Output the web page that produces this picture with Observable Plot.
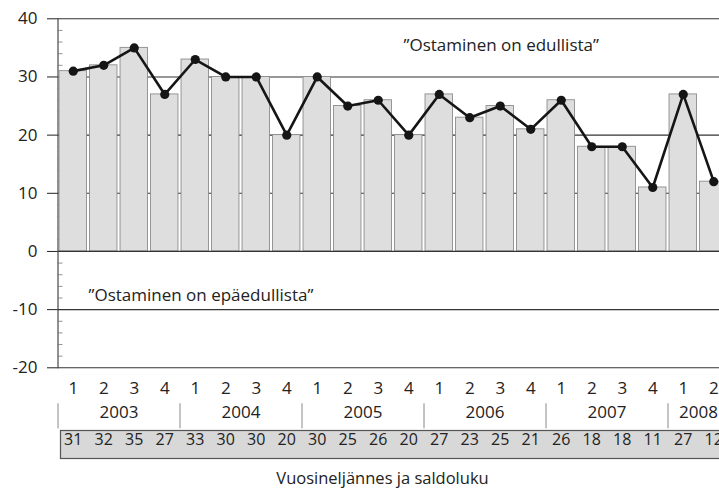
<!DOCTYPE html>
<html><head><meta charset="utf-8">
<script src="https://cdn.jsdelivr.net/npm/d3@7"></script>
<script src="https://cdn.jsdelivr.net/npm/@observablehq/plot@0.6"></script>
<style>html,body{margin:0;padding:0;overflow:hidden;background:#fff}</style>
</head><body><div id="chart"></div>
<script>
// ---- data ----
const years = ["2003", "2004", "2005", "2006", "2007", "2008"];
const quartersPerYear = [4, 4, 4, 4, 4, 2];
const quarterLabels = ["1", "2", "3", "4"];
const values = [31, 32, 35, 27, 33, 30, 30, 20, 30, 25, 26, 20, 27, 23, 25, 21, 26, 18, 18, 11, 27, 12];
const yTicks = [-20, -10, 0, 10, 20, 30, 40];
const gridLines = [-20, -10, 10, 20, 30, 40];
const minorTicks = [-18, -16, -14, -12, -8, -6, -4, -2, 2, 4, 6, 8, 12, 14, 16, 18, 22, 24, 26, 28, 32, 34, 36, 38];
const annotationTop = ["”Ostaminen on edullista”"];
const annotationTopY = [35.4];
const annotationBottom = ["”Ostaminen on epäedullista”"];
const annotationBottomY = [-7.6];
const xTitle = "Vuosineljännes ja saldoluku";

// ---- table ----
const rows = [];
years.forEach((yr, yi) => {
  quarterLabels.slice(0, quartersPerYear[yi]).forEach(q => {
    rows.push({key: yr + "-" + q, year: yr, q, v: values[rows.length]});
  });
});
const keys = rows.map(d => d.key);
const yearRows = years.map((yr, yi) => ({
  year: yr,
  first: yr + "-1",
  mid: yr + "-" + (quartersPerYear[yi] / 2 + 1)
}));

// ---- layout ----
const W = 730, H = 493, ML = 57.5, MR = 1.5, MT = 18.3, MB = 125.7;
const frameH = H - MT - MB;
const step = (W - ML - MR) / keys.length;
const ink = "#222";
const font = "'Open Sans', sans-serif";

const chart = Plot.plot({
  width: W, height: H,
  marginLeft: ML, marginRight: MR, marginTop: MT, marginBottom: MB,
  style: {fontFamily: font, fontSize: "17px", color: ink, background: "#fff", overflow: "visible", maxWidth: "none"},
  x: {domain: keys, paddingInner: 0.1, paddingOuter: 0.05, round: false, axis: null},
  y: {domain: [-20, 40], ticks: yTicks, tickSize: 10.5, tickPadding: 10, tickFormat: d => String(d), label: null, line: true},
  marks: [
    Plot.ruleY(gridLines, {stroke: "#333", strokeWidth: 1.1}),
    Plot.tickY(minorTicks, {stroke: "#777", strokeWidth: 0.8, insetRight: (W - ML - MR) - 5}),
    Plot.barY(rows, {x: "key", y: "v", fill: "#dedede", stroke: "#8c8c8c", strokeWidth: 0.9}),
    Plot.ruleY([0], {stroke: "#333", strokeWidth: 1.2}),
    Plot.lineY(rows, {x: "key", y: "v", stroke: "#151515", strokeWidth: 2.6}),
    Plot.dot(rows, {x: "key", y: "v", r: 4.6, fill: "#151515", stroke: "none"}),
    Plot.text(annotationTop, {y: annotationTopY, text: d => d, frameAnchor: "left", textAnchor: "start", dx: 345.5, fontSize: 17, fill: ink}),
    Plot.text(annotationBottom, {y: annotationBottomY, text: d => d, frameAnchor: "left", textAnchor: "start", dx: 30.5, fontSize: 17, fill: ink}),
    // lower table
    Plot.text(rows, {x: "key", text: "q", frameAnchor: "bottom", dy: 25.7, fontSize: 17, fill: ink}),
    Plot.ruleX(yearRows, {x: "first", dx: -step / 2, stroke: "#888", strokeWidth: 1, insetTop: frameH + 36, insetBottom: -61}),
    Plot.text(yearRows, {x: "mid", text: "year", dx: -step / 2, frameAnchor: "bottom", dy: 50, fontSize: 17, fill: ink}),
    Plot.frame({fill: "#d8d8d8", stroke: "#555", strokeWidth: 1.2, insetLeft: 2.5, insetTop: frameH + 62.7, insetBottom: -90.7}),
    Plot.text(rows, {x: "key", text: d => String(d.v), frameAnchor: "bottom", dy: 77, fontSize: 16, fill: ink}),
    Plot.text([xTitle], {text: d => d, frameAnchor: "bottom", dy: 115.7, dx: -11, fontSize: 16.5, fill: ink})
  ]
});
document.getElementById("chart").appendChild(chart);
</script>
</body></html>
